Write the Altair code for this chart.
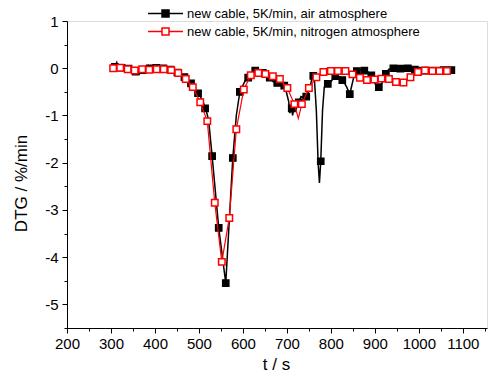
import altair as alt
import pandas as pd

AIR = "new cable, 5K/min, air atmosphere"
N2 = "new cable, 5K/min, nitrogen atmosphere"

# air atmosphere: continuous (noisy) curve
air_t = [300, 308, 313, 316, 322, 330, 338, 345, 352, 358, 365, 372, 378, 385, 390,
         398, 405, 412, 420, 428, 436, 444, 452, 460, 468, 476, 484, 492, 500, 507,
         513, 518, 522, 530, 545, 561, 577, 585, 593, 600, 606, 612, 620, 628, 636,
         645, 652, 660, 668, 676, 684, 690, 696, 700, 704, 707, 710, 713, 716, 720,
         724, 728, 732, 736, 740, 745, 750, 755, 758, 762, 767, 771, 774, 777, 781,
         785, 790, 795, 800, 806, 812, 818, 824, 830, 836, 843, 848, 853, 860, 868,
         876, 884, 890, 896, 902, 908, 914, 920, 926, 932, 940, 948, 956, 964, 972,
         980, 988, 996, 1004, 1012, 1020, 1028, 1036, 1044, 1052, 1060, 1068, 1076, 1082]
air_v = [0.0, 0.03, 0.12, -0.02, 0.02, -0.03, 0.0, -0.06, -0.1, -0.05, -0.12, -0.04, -0.1, 0.05, -0.05,
         -0.02, 0.02, -0.02, 0.0, -0.02, -0.03, -0.06, -0.1, -0.15, -0.2, -0.26, -0.34, -0.45, -0.56, -0.66,
         -0.8, -0.95, -1.1, -1.86, -3.38, -4.55, -1.9, -1.0, -0.5, -0.36, -0.25, -0.2, -0.1, -0.05, -0.08,
         -0.1, -0.14, -0.2, -0.28, -0.32, -0.3, -0.3, -0.4, -0.55, -0.7, -0.95, -0.8, -1.0, -0.85, -0.9,
         -0.75, -0.7, -0.6, -0.62, -0.55, -0.62, -0.45, -0.3, -0.18, -0.15, -0.9, -2.0, -2.43, -1.97, -0.9,
         -0.4, -0.3, -0.35, -0.28, -0.22, -0.15, -0.18, -0.2, -0.3, -0.4, -0.55, -0.35, -0.15, -0.05, -0.03,
         -0.05, -0.08, -0.12, -0.25, -0.35, -0.4, -0.35, -0.25, -0.1, -0.02, 0.0, 0.02, -0.02, 0.0, 0.02,
         -0.02, -0.02, -0.05, -0.04, -0.05, -0.05, -0.04, -0.06, -0.05, -0.04, -0.04, -0.03, -0.04, -0.03]

# air atmosphere: marker positions
air_mt = [309, 324, 340, 356, 372, 388, 403, 419, 435, 451, 467, 482, 498, 514, 530, 545,
          561, 577, 593, 612, 628, 645, 661, 678, 694, 711, 727, 744, 760, 777, 793, 810,
          826, 843, 859, 876, 892, 909, 925, 942, 958, 975, 991, 1008, 1024, 1041, 1057, 1074]
air_mv = [0.03, 0.01, -0.01, -0.07, -0.04, 0.0, 0.01, 0.0, -0.03, -0.09, -0.19, -0.32, -0.53, -0.85, -1.86, -3.38,
          -4.55, -1.9, -0.5, -0.2, -0.05, -0.1, -0.2, -0.31, -0.37, -0.85, -0.72, -0.6, -0.16, -1.97, -0.33, -0.17,
          -0.25, -0.55, -0.06, -0.05, -0.15, -0.4, -0.12, 0.0, -0.01, 0.0, -0.03, -0.05, -0.05, -0.05, -0.04, -0.04]

# nitrogen atmosphere: markers (and line through them)
n2_t = [305, 321, 338, 354, 371, 387, 404, 420, 437, 453, 470, 486, 503, 519, 536, 552,
        569, 585, 602, 618, 635, 651, 668, 684, 701, 717, 734, 750, 767, 783, 800, 816,
        833, 849, 866, 882, 899, 915, 932, 948, 965, 981, 998, 1014, 1031, 1047, 1064]
n2_v = [0.0, 0.01, -0.02, -0.05, -0.02, -0.03, -0.02, -0.02, -0.04, -0.1, -0.23, -0.4, -0.72, -1.12, -2.85, -4.1,
        -3.17, -1.29, -0.45, -0.15, -0.1, -0.12, -0.17, -0.23, -0.42, -0.76, -0.76, -0.42, -0.19, -0.08, -0.06, -0.06,
        -0.06, -0.13, -0.2, -0.25, -0.24, -0.22, -0.23, -0.29, -0.3, -0.19, -0.08, -0.05, -0.06, -0.06, -0.06]
# extra unmarked point of the nitrogen line
n2_dip_t = [726]
n2_dip_v = [-1.06]

x_ticks = list(range(200, 1151, 50))
y_ticks = [v / 2 for v in range(-11, 3)]

FONT = "Liberation Sans"

air_line_df = pd.DataFrame({"t": air_t, "v": air_v})
air_mark_df = pd.DataFrame({"t": air_mt, "v": air_mv, "series": AIR})
n2_line_df = pd.DataFrame({"t": n2_t + n2_dip_t, "v": n2_v + n2_dip_v}).sort_values("t")
n2_mark_df = pd.DataFrame({"t": n2_t, "v": n2_v, "series": N2})

xaxis = alt.Axis(
    values=x_ticks,
    labelExpr="datum.value % 100 === 0 ? '' + datum.value : ''",
    tickSize={"condition": {"test": "datum.value % 100 !== 0", "value": 3}, "value": 5},
    grid=False, domainColor="black", tickColor="black", labelColor="black",
    labelFont=FONT, labelFontSize=15, labelPadding=3, labelFlush=False, labelOverlap=False,
    title="t / s", titleFont=FONT, titleFontSize=17, titleFontWeight="normal",
    titleColor="black", titleX=209, titleY=36, titleBaseline="middle",
)
yaxis = alt.Axis(
    values=y_ticks,
    labelExpr="datum.value % 1 === 0 ? '' + datum.value : ''",
    tickSize={"condition": {"test": "datum.value % 1 !== 0", "value": 3}, "value": 5},
    grid=False, domainColor="black", tickColor="black", labelColor="black",
    labelFont=FONT, labelFontSize=15, labelPadding=4, labelFlush=False, labelOverlap=False,
    title="DTG / %/min", titleFont=FONT, titleFontSize=17, titleFontWeight="normal",
    titleColor="black", titleX=-46, titleY=162, titleAngle=270,
    titleBaseline="middle", titleAlign="center",
)

xs = alt.Scale(domain=[200, 1155], nice=False, zero=False)
ys = alt.Scale(domain=[-5.5, 1], nice=False, zero=False)

X = alt.X("t:Q", scale=xs, axis=xaxis)
Y = alt.Y("v:Q", scale=ys, axis=yaxis)

sym = "M-5,0H-1M1,0H5M-1,-1H1V1H-1Z"
leg = alt.Legend(
    title=None, orient="none", legendX=92, legendY=-14,
    symbolType=sym, symbolSize=49, symbolStrokeWidth=1.5,
    labelFont=FONT, labelFontSize=13, labelColor="black", labelLimit=0,
    labelOffset=15, rowPadding=4,
)
color = alt.Color("series:N", scale=alt.Scale(domain=[AIR, N2], range=["black", "#ff0000"]), legend=leg)
fill = alt.Fill("series:N", scale=alt.Scale(domain=[AIR, N2], range=["black", "white"]), legend=leg)

air_line = alt.Chart(air_line_df).mark_line(color="black", strokeWidth=1.5).encode(x=X, y=Y)
air_pts = alt.Chart(air_mark_df).mark_point(shape="square", filled=False, size=42, strokeWidth=1.2, opacity=1).encode(
    x=X, y=Y, color=color, fill=fill)
n2_line = alt.Chart(n2_line_df).mark_line(color="#ff0000", strokeWidth=1.2).encode(x=X, y=Y)
n2_pts = alt.Chart(n2_mark_df).mark_point(shape="square", filled=False, size=42, strokeWidth=1.5, opacity=1).encode(
    x=X, y=Y, color=color, fill=fill)

chart = alt.layer(air_line, air_pts, n2_line, n2_pts).properties(
    width=420, height=307,
    autosize=alt.AutoSizeParams(type="none"),
    padding={"left": 67, "top": 21, "right": 1, "bottom": 45},
).configure_view(stroke=None).configure(background="white")

chart.save("out.html", embed_options={"renderer": "svg", "actions": False})
